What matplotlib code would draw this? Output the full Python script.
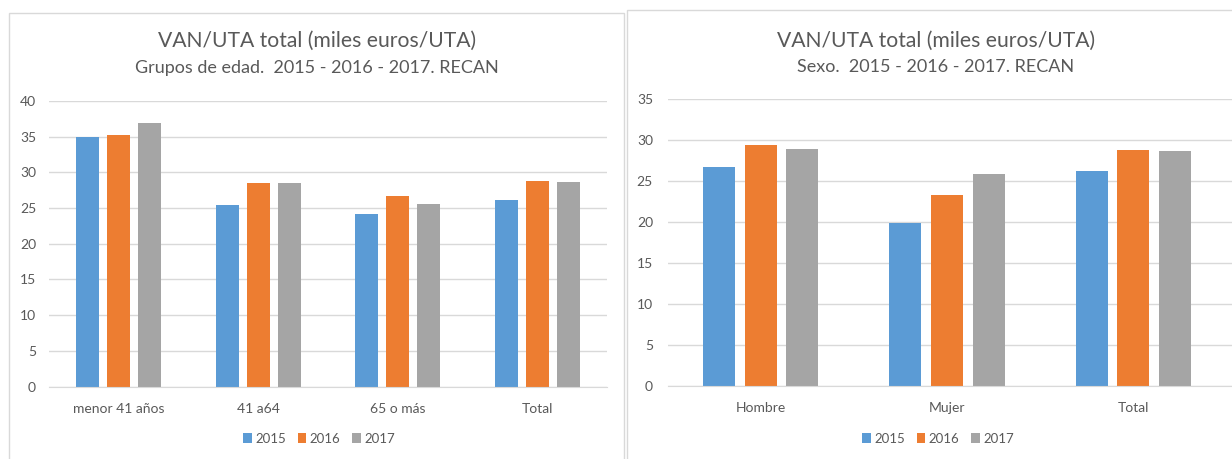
import matplotlib
matplotlib.use("Agg")
import matplotlib.pyplot as plt
from matplotlib.patches import Rectangle
import numpy as np

years = ["2015", "2016", "2017"]
colors = ["#5B9BD5", "#ED7D31", "#A5A5A5"]

edad_cats = ["menor 41 años", "41 a64", "65 o más", "Total"]
edad_2015 = [35.0, 25.4, 24.1, 26.1]
edad_2016 = [35.3, 28.5, 26.7, 28.85]
edad_2017 = [36.9, 28.5, 25.6, 28.6]

sexo_cats = ["Hombre", "Mujer", "Total"]
sexo_2015 = [26.67, 19.83, 26.17]
sexo_2016 = [29.35, 23.28, 28.82]
sexo_2017 = [28.9, 25.85, 28.66]

title = "VAN/UTA total (miles euros/UTA)"
sub_edad = "Grupos de edad.  2015 - 2016 - 2017. RECAN"
sub_sexo = "Sexo.  2015 - 2016 - 2017. RECAN"

W, H = 1232, 459
txt = "#595959"
grid = "#D9D9D9"
plt.rcParams["font.family"] = ["Lato", "DejaVu Sans"]


def fx(px):
    return px / W


def fy(py):
    return 1 - py / H


def chart(fig, rect, cats, series, ymax, width, step, xpad, tcx, sub, legx, ypad):
    ax = fig.add_axes(rect)
    x = np.arange(len(cats))
    bars = []
    for k, vals in enumerate(series):
        b = ax.bar(x + (k - 1) * step, vals, width, color=colors[k], label=years[k], zorder=3)
        bars.append(b)
    ax.set_ylim(0, ymax)
    ax.set_xlim(-0.5, len(cats) - 0.5 + xpad)
    ax.set_yticks(np.arange(0, ymax + 1, 5))
    ax.set_xticks(x)
    ax.set_xticklabels(cats)
    ax.yaxis.grid(True, color=grid, linewidth=1, zorder=0)
    for s in ["top", "right", "left"]:
        ax.spines[s].set_visible(False)
    ax.spines["bottom"].set_color(grid)
    ax.spines["bottom"].set_zorder(4)
    ax.tick_params(axis="both", length=0, colors=txt, labelsize=10)
    ax.tick_params(axis="y", pad=ypad)
    ax.tick_params(axis="x", pad=12)
    fig.text(fx(tcx), fy(41), title, ha="center", va="center", fontsize=15.2, color=txt)
    fig.text(fx(tcx), fy(67.5), sub, ha="center", va="center", fontsize=13, color=txt)
    fig.legend(handles=bars, labels=years, loc="center", bbox_to_anchor=(fx(legx), fy(439)),
               ncol=3, frameon=False, fontsize=9.5, labelcolor=txt, handlelength=0.65,
               handleheight=0.8, handletextpad=0.25, columnspacing=0.9)
    return ax


fig = plt.figure(figsize=(W / 100, H / 100), dpi=100)
fig.patches.append(Rectangle((fx(9), fy(470)), fx(624.3 - 9), fy(12.7) - fy(470),
                             transform=fig.transFigure, fill=False, edgecolor=grid, linewidth=1))
fig.patches.append(Rectangle((fx(626.7), fy(470)), fx(1240 - 626.7), fy(10) - fy(470),
                             transform=fig.transFigure, fill=False, edgecolor=grid, linewidth=1))

chart(fig, [fx(49.3), fy(386.5), fx(606.7 - 49.3), fy(101) - fy(386.5)],
      edad_cats, [edad_2015, edad_2016, edad_2017], 40, 0.165, 0.2225, 0.0, 317, sub_edad, 319, 9.5)
chart(fig, [fx(667.6), fy(385.7), fx(1232 - 667.6), fy(99) - fy(385.7)],
      sexo_cats, [sexo_2015, sexo_2016, sexo_2017], 35, 0.172, 0.223, 0.03, 936, sub_sexo, 938, 10.5)

fig.savefig("out.png", dpi=100)
